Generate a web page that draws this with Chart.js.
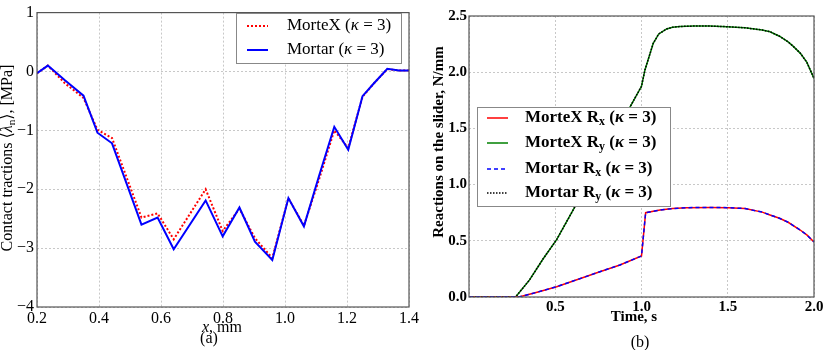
<!DOCTYPE html>
<html><head><meta charset="utf-8">
<script src="https://cdn.jsdelivr.net/npm/chart.js@4.4.0/dist/chart.umd.min.js"></script>
<style>
html,body{margin:0;padding:0;background:#fff;}
#wrap{position:relative;width:830px;height:350px;overflow:hidden;background:#fff;}
</style></head><body>
<div id="wrap">
<div style="position:absolute;left:0;top:0;width:430px;height:350px"><canvas id="ca"></canvas></div>
<div style="position:absolute;left:415px;top:0;width:415px;height:350px"><canvas id="cb"></canvas></div>
</div>
<script>
// ---------- Data: panel (a) ----------
const posX = [0.2, 0.235, 0.29, 0.35, 0.395, 0.442, 0.537, 0.589, 0.641, 0.744, 0.799, 0.853, 0.903, 0.959, 1.011, 1.061, 1.11, 1.159, 1.204, 1.25, 1.287, 1.33, 1.368, 1.4];
const morteXTraction = [-0.03, 0.1, -0.2, -0.45, -0.99, -1.13, -2.48, -2.41, -2.85, -2.0, -2.71, -2.33, -2.83, -3.17, -2.15, -2.62, -1.83, -1.0, -1.3, -0.43, -0.2, 0.04, 0.015, 0.015];
const mortarTraction = [-0.03, 0.1, -0.15, -0.41, -1.04, -1.22, -2.6, -2.48, -3.02, -2.19, -2.8, -2.31, -2.89, -3.2, -2.15, -2.63, -1.77, -0.94, -1.33, -0.42, -0.2, 0.045, 0.015, 0.015];
const labelsA = ['MorteX (*κ* = 3)', 'Mortar (*κ* = 3)'];
const xTitleA = '*x*, mm';
const yTitleA = 'Contact tractions ⟨*λ*_{n}⟩, [MPa]';
const captionA = '(a)';

// ---------- Data: panel (b) ----------
const timeRy = [0, 0.27, 0.35, 0.43, 0.508, 0.624, 0.75, 0.85, 0.933, 1.0, 1.02, 1.068, 1.1, 1.146, 1.18, 1.223, 1.3, 1.4, 1.494, 1.6, 1.7, 1.745, 1.8, 1.85, 1.88, 1.92, 1.958, 2.0];
const morteXRy = [0, 0, 0.15, 0.34, 0.51, 0.83, 1.18, 1.46, 1.69, 1.875, 2.02, 2.257, 2.34, 2.385, 2.40, 2.407, 2.41, 2.41, 2.405, 2.395, 2.375, 2.36, 2.32, 2.27, 2.23, 2.17, 2.09, 1.945];
const mortarRy = [0, 0, 0.15, 0.34, 0.51, 0.83, 1.18, 1.46, 1.69, 1.875, 2.02, 2.257, 2.34, 2.385, 2.40, 2.407, 2.41, 2.41, 2.405, 2.395, 2.375, 2.36, 2.32, 2.27, 2.23, 2.17, 2.09, 1.945];
const timeRx = [0, 0.29, 0.4, 0.508, 0.75, 0.875, 1.0, 1.024, 1.107, 1.18, 1.262, 1.4, 1.503, 1.6, 1.7, 1.745, 1.8, 1.85, 1.92, 1.96, 2.0];
const morteXRx = [0, 0, 0.045, 0.092, 0.22, 0.285, 0.365, 0.75, 0.774, 0.787, 0.795, 0.797, 0.795, 0.787, 0.755, 0.73, 0.7, 0.665, 0.596, 0.55, 0.49];
const mortarRx = [0, 0, 0.045, 0.092, 0.22, 0.285, 0.365, 0.75, 0.774, 0.787, 0.795, 0.797, 0.795, 0.787, 0.755, 0.73, 0.7, 0.665, 0.596, 0.55, 0.49];
const labelsB = ['MorteX R_{x} (*κ* = 3)', 'MorteX R_{y} (*κ* = 3)', 'Mortar R_{x} (*κ* = 3)', 'Mortar R_{y} (*κ* = 3)'];
const xTitleB = 'Time, s';
const yTitleB = 'Reactions on the slider, N/mm';
const captionB = '(b)';

const SERIF = "'Liberation Serif','DejaVu Serif',serif";

function pts(xs, ys){ return xs.map((x,i)=>({x:x, y:ys[i]})); }

// rich text: *italic*, _{sub}
function parseRich(s){
  const segs=[]; let i=0, cur='', italic=false;
  while(i<s.length){
    const c=s[i];
    if(c==='*'){ if(cur) segs.push({t:cur,it:italic,sub:false}); cur=''; italic=!italic; i++; continue; }
    if(c==='_' && s[i+1]==='{'){
      if(cur) segs.push({t:cur,it:italic,sub:false}); cur='';
      const j=s.indexOf('}',i); segs.push({t:s.slice(i+2,j),it:italic,sub:true}); i=j+1; continue;
    }
    cur+=c; i++;
  }
  if(cur) segs.push({t:cur,it:italic,sub:false});
  return segs;
}
function fontFor(seg,size,bold){
  const sz = seg.sub ? size*0.7 : size;
  return (seg.it?'italic ':'')+(bold?'bold ':'')+sz+'px '+SERIF;
}
function drawRich(ctx, s, x, y, size, bold, align){
  const segs=parseRich(s);
  ctx.save();
  ctx.textBaseline='middle'; ctx.textAlign='left'; ctx.fillStyle='#000';
  let w=0; segs.forEach(g=>{ctx.font=fontFor(g,size,bold); g.w=ctx.measureText(g.t).width; w+=g.w;});
  let cx = align==='center' ? x-w/2 : x;
  segs.forEach(g=>{ctx.font=fontFor(g,size,bold); ctx.fillText(g.t, cx, y+(g.sub?size*0.25:0)); cx+=g.w;});
  ctx.restore();
}
function drawRotated(ctx, s, x, y, size, bold){
  ctx.save(); ctx.translate(x,y); ctx.rotate(-Math.PI/2);
  drawRich(ctx, s, 0, 0, size, bold, 'center'); ctx.restore();
}
function drawFrame(chart){
  const {ctx, chartArea:a}=chart;
  ctx.save(); ctx.strokeStyle='#555'; ctx.lineWidth=1.2; ctx.setLineDash([]);
  ctx.strokeRect(a.left, a.top, a.right-a.left, a.bottom-a.top); ctx.restore();
}
function drawLegend(chart, box, rows){
  const ctx=chart.ctx;
  ctx.save();
  ctx.fillStyle='#fff'; ctx.fillRect(box.x, box.y, box.w, box.h);
  ctx.strokeStyle='#888'; ctx.lineWidth=1; ctx.strokeRect(box.x+0.5, box.y+0.5, box.w, box.h);
  rows.forEach((r,i)=>{
    const ds=chart.data.datasets[r.ds];
    const y=box.rowY[i];
    ctx.beginPath(); ctx.strokeStyle=ds.borderColor; ctx.lineWidth=ds.borderWidth;
    ctx.setLineDash(ds.borderDash||[]);
    ctx.moveTo(box.sx0, y); ctx.lineTo(box.sx1, y); ctx.stroke();
    ctx.setLineDash([]);
    drawRich(ctx, r.label, box.tx, y, box.size, box.bold, 'left');
  });
  ctx.restore();
}

function axisCommon(fontSpec){
  return {
    grid:{color:'#c8c8c8', lineWidth:1, drawTicks:false},
    border:{display:false, dash:[2,2]},
    ticks:{color:'#000', font:fontSpec}
  };
}

// ---------- Chart (a) ----------
const fA = {family:SERIF, size:16};
const cfgA = {
  type:'line',
  data:{datasets:[
    {label:'MorteX (κ = 3)', order:1, data:pts(posX, morteXTraction), borderColor:'#ff0000', borderWidth:2, borderDash:[2,2], pointRadius:0, tension:0, fill:false},
    {label:'Mortar (κ = 3)', order:0, data:pts(posX, mortarTraction), borderColor:'#0000ff', borderWidth:2, pointRadius:0, tension:0, fill:false}
  ]},
  options:{
    responsive:true, maintainAspectRatio:false, animation:false,
    layout:{padding:{top:7, right:21, left:0, bottom:0}},
    plugins:{legend:{display:false}, tooltip:{enabled:false}},
    scales:{
      x:Object.assign(axisCommon(fA), {type:'linear', min:0.2, max:1.4,
        ticks:{color:'#000', font:fA, stepSize:0.2, padding:2, maxRotation:0, callback:v=>v.toFixed(1)},
        afterFit:s=>{s.height=43;}}),
      y:Object.assign(axisCommon(fA), {min:-4, max:1,
        ticks:{color:'#000', font:fA, stepSize:1, padding:3, callback:v=>v<0?'\u2212'+Math.abs(v):String(v)},
        afterFit:s=>{s.width=37;}})
    }
  },
  plugins:[{id:'decoA', afterDatasetsDraw(chart){ drawFrame(chart); },
    afterDraw(chart){
      const ctx=chart.ctx;
      drawLegend(chart, {x:236,y:13,w:165,h:50,rowY:[26,50],sx0:247,sx1:268,tx:287,size:17,bold:false},
        [{ds:0,label:labelsA[0]},{ds:1,label:labelsA[1]}]);
      drawRich(ctx, xTitleA, 222, 328, 16, false, 'center');
      drawRich(ctx, captionA, 209, 339, 16, false, 'center');
      drawRotated(ctx, yTitleA, 8, 158, 16, false);
    }}]
};
new Chart(document.getElementById('ca'), cfgA);

// ---------- Chart (b) ----------
const fB = {family:SERIF, size:15, weight:'bold'};
const cfgB = {
  type:'line',
  data:{datasets:[
    {label:'MorteX Rx (κ = 3)', order:1, data:pts(timeRx, morteXRx), borderColor:'#ff0000', borderWidth:1.5, pointRadius:0, tension:0, fill:false},
    {label:'MorteX Ry (κ = 3)', order:1, data:pts(timeRy, morteXRy), borderColor:'#008000', borderWidth:1.5, pointRadius:0, tension:0, fill:false},
    {label:'Mortar Rx (κ = 3)', order:0, data:pts(timeRx, mortarRx), borderColor:'#0000ff', borderWidth:1.5, borderDash:[4,3], pointRadius:0, tension:0, fill:false},
    {label:'Mortar Ry (κ = 3)', order:0, data:pts(timeRy, mortarRy), borderColor:'#000000', borderWidth:1.5, borderDash:[1.5,1.5], pointRadius:0, tension:0, fill:false}
  ]},
  options:{
    responsive:true, maintainAspectRatio:false, animation:false,
    layout:{padding:{top:16, right:16, left:0, bottom:0}},
    plugins:{legend:{display:false}, tooltip:{enabled:false}},
    scales:{
      x:Object.assign(axisCommon(fB), {type:'linear', min:0, max:2,
        ticks:{color:'#000', font:fB, stepSize:0.5, padding:1, maxRotation:0, callback:v=>v===0?'':v.toFixed(1)},
        afterFit:s=>{s.height=53;}}),
      y:Object.assign(axisCommon(fB), {min:0, max:2.5,
        ticks:{color:'#000', font:fB, stepSize:0.5, padding:2, callback:v=>v.toFixed(1)},
        afterFit:s=>{s.width=54;}})
    }
  },
  plugins:[{id:'decoB', afterDatasetsDraw(chart){ drawFrame(chart); },
    afterDraw(chart){
      const ctx=chart.ctx, o=415;
      drawLegend(chart, {x:477-o,y:107,w:193,h:99,rowY:[118,143,169,193],sx0:487-o,sx1:508-o,tx:525-o,size:17,bold:true},
        [{ds:0,label:labelsB[0]},{ds:1,label:labelsB[1]},{ds:2,label:labelsB[2]},{ds:3,label:labelsB[3]}]);
      drawRich(ctx, xTitleB, 634-o, 317, 15, true, 'center');
      drawRich(ctx, captionB, 640-o, 343, 16, false, 'center');
      drawRotated(ctx, yTitleB, 439-o, 142, 15, true);
    }}]
};
new Chart(document.getElementById('cb'), cfgB);
</script>
</body></html>
